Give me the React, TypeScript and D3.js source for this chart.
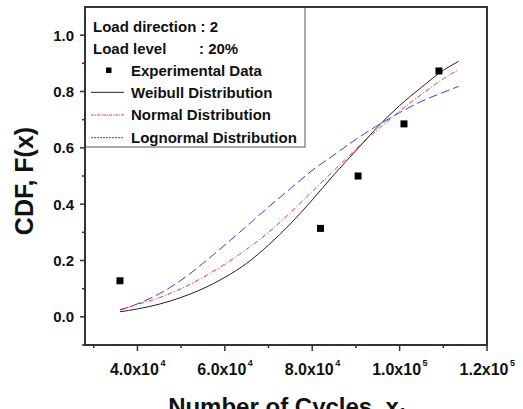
import React from "react";
import * as d3 from "d3";

const cycles = [36000, 40000, 45000, 50000, 55000, 60000, 65000, 70000, 75000, 80000, 85000, 90000, 95000, 100000, 105000, 110000, 113500];
const weibull = [0.018, 0.028, 0.045, 0.069, 0.1, 0.14, 0.19, 0.255, 0.33, 0.415, 0.505, 0.59, 0.675, 0.75, 0.815, 0.875, 0.907];
const normal = [0.026, 0.044, 0.068, 0.1, 0.14, 0.187, 0.24, 0.3, 0.37, 0.445, 0.52, 0.595, 0.665, 0.73, 0.79, 0.845, 0.878];
const lognormal = [0.024, 0.046, 0.082, 0.13, 0.19, 0.255, 0.322, 0.39, 0.455, 0.52, 0.575, 0.63, 0.68, 0.725, 0.765, 0.797, 0.818];

const expX = [36000, 81900, 90500, 101000, 109000];
const expY = [0.128, 0.314, 0.5, 0.685, 0.873];

const yTicks = [0.0, 0.2, 0.4, 0.6, 0.8, 1.0];
const yMinor = [-0.1, 0.1, 0.3, 0.5, 0.7, 0.9];
const xTicks = [40000, 60000, 80000, 100000, 120000];
const xTickMant = ["4.0x10", "6.0x10", "8.0x10", "1.0x10", "1.2x10"];
const xTickExp = ["4", "4", "4", "5", "5"];
const xMinor = [30000, 50000, 70000, 90000, 110000];

const FONT = "'Liberation Sans', Arial, sans-serif";

export default function App() {
  const left = 85, right = 487, top = 7, bottom = 345;
  const x = d3.scaleLinear().domain([28000, 120000]).range([left, right]);
  const y = d3.scaleLinear().domain([-0.1, 1.1]).range([bottom, top]);
  const mk = (vals: number[]) =>
    d3.line<number>().x((_, i) => x(cycles[i])).y((d) => y(d)).curve(d3.curveMonotoneX)(vals) || "";

  return (
    <svg width={523} height={409} style={{ position: "absolute", left: 0, top: 0, background: "#fff" }} fontFamily={FONT}>
      <rect x={0} y={0} width={523} height={409} fill="#fff" />
      {/* curves */}
      <path d={mk(lognormal)} fill="none" stroke="#3a3aff" strokeWidth={1} strokeDasharray="9,4" />
      <path d={mk(normal)} fill="none" stroke="#ff3030" strokeWidth={1} strokeDasharray="5,2,1,2" />
      <path d={mk(weibull)} fill="none" stroke="#222" strokeWidth={1} />
      {/* experimental points */}
      {expX.map((v, i) => (
        <rect key={i} x={x(v) - 3.5} y={y(expY[i]) - 3.5} width={7} height={7} fill="#000" />
      ))}
      {/* y ticks */}
      {yTicks.map((t) => (
        <g key={t}>
          <line x1={left - 5} x2={left} y1={y(t)} y2={y(t)} stroke="#333" strokeWidth={1.5} />
          <text x={left - 11} y={y(t) + 5.5} textAnchor="end" fontSize={15} fontWeight="bold" fill="#111">
            {t.toFixed(1)}
          </text>
        </g>
      ))}
      {yMinor.map((t) => (
        <line key={t} x1={left - 3} x2={left} y1={y(t)} y2={y(t)} stroke="#333" strokeWidth={1.5} />
      ))}
      {/* x ticks */}
      {xTicks.map((t, i) => (
        <g key={t}>
          <line x1={x(t)} x2={x(t)} y1={bottom} y2={bottom + 6} stroke="#333" strokeWidth={1.5} />
          <text x={x(t) - 3} y={375} textAnchor="middle" fontSize={16} fontWeight="bold" fill="#111">
            {xTickMant[i]}
          </text>
          <text x={x(t) + 23} y={366} textAnchor="start" fontSize={9} fontWeight="bold" fill="#111">
            {xTickExp[i]}
          </text>
        </g>
      ))}
      {xMinor.map((t) => (
        <line key={t} x1={x(t)} x2={x(t)} y1={bottom} y2={bottom + 3} stroke="#333" strokeWidth={1.5} />
      ))}
      {/* axis titles */}
      <text transform="translate(33,181) rotate(-90)" textAnchor="middle" fontSize={25} fontWeight="bold" fill="#111">
        CDF, F(x)
      </text>
      <text x={286} y={415} textAnchor="middle" fontSize={24} fontWeight="bold" fill="#111">
        Number of Cycles, x<tspan fontSize={15} dy={4}>f</tspan>
      </text>
      {/* legend */}
      <rect x={left} y={top} width={305 - left} height={147 - top} fill="#fff" stroke="#555" strokeWidth={1} />
      {/* frame */}
      <rect x={left} y={top} width={right - left} height={bottom - top} fill="none" stroke="#333" strokeWidth={2} />
      <g fontSize={15} fontWeight="bold" fill="#111">
        <text x={93} y={31.5}>Load direction : 2</text>
        <text x={93} y={54}>Load level</text>
        <text x={199} y={54}>: 20%</text>
        <rect x={106} y={67.5} width={5.5} height={5.5} fill="#000" />
        <text x={131} y={76}>Experimental Data</text>
        <line x1={91} x2={124} y1={92.3} y2={92.3} stroke="#222" strokeWidth={1} />
        <text x={131} y={97.5}>Weibull Distribution</text>
        <line x1={91} x2={124} y1={115} y2={115} stroke="#ff3030" strokeWidth={1} strokeDasharray="3,1,1,1" />
        <text x={131} y={120}>Normal Distribution</text>
        <line x1={91} x2={124} y1={137.7} y2={137.7} stroke="#3a3aff" strokeWidth={1} strokeDasharray="2,1" />
        <text x={131} y={142.5}>Lognormal Distribution</text>
      </g>
    </svg>
  );
}
